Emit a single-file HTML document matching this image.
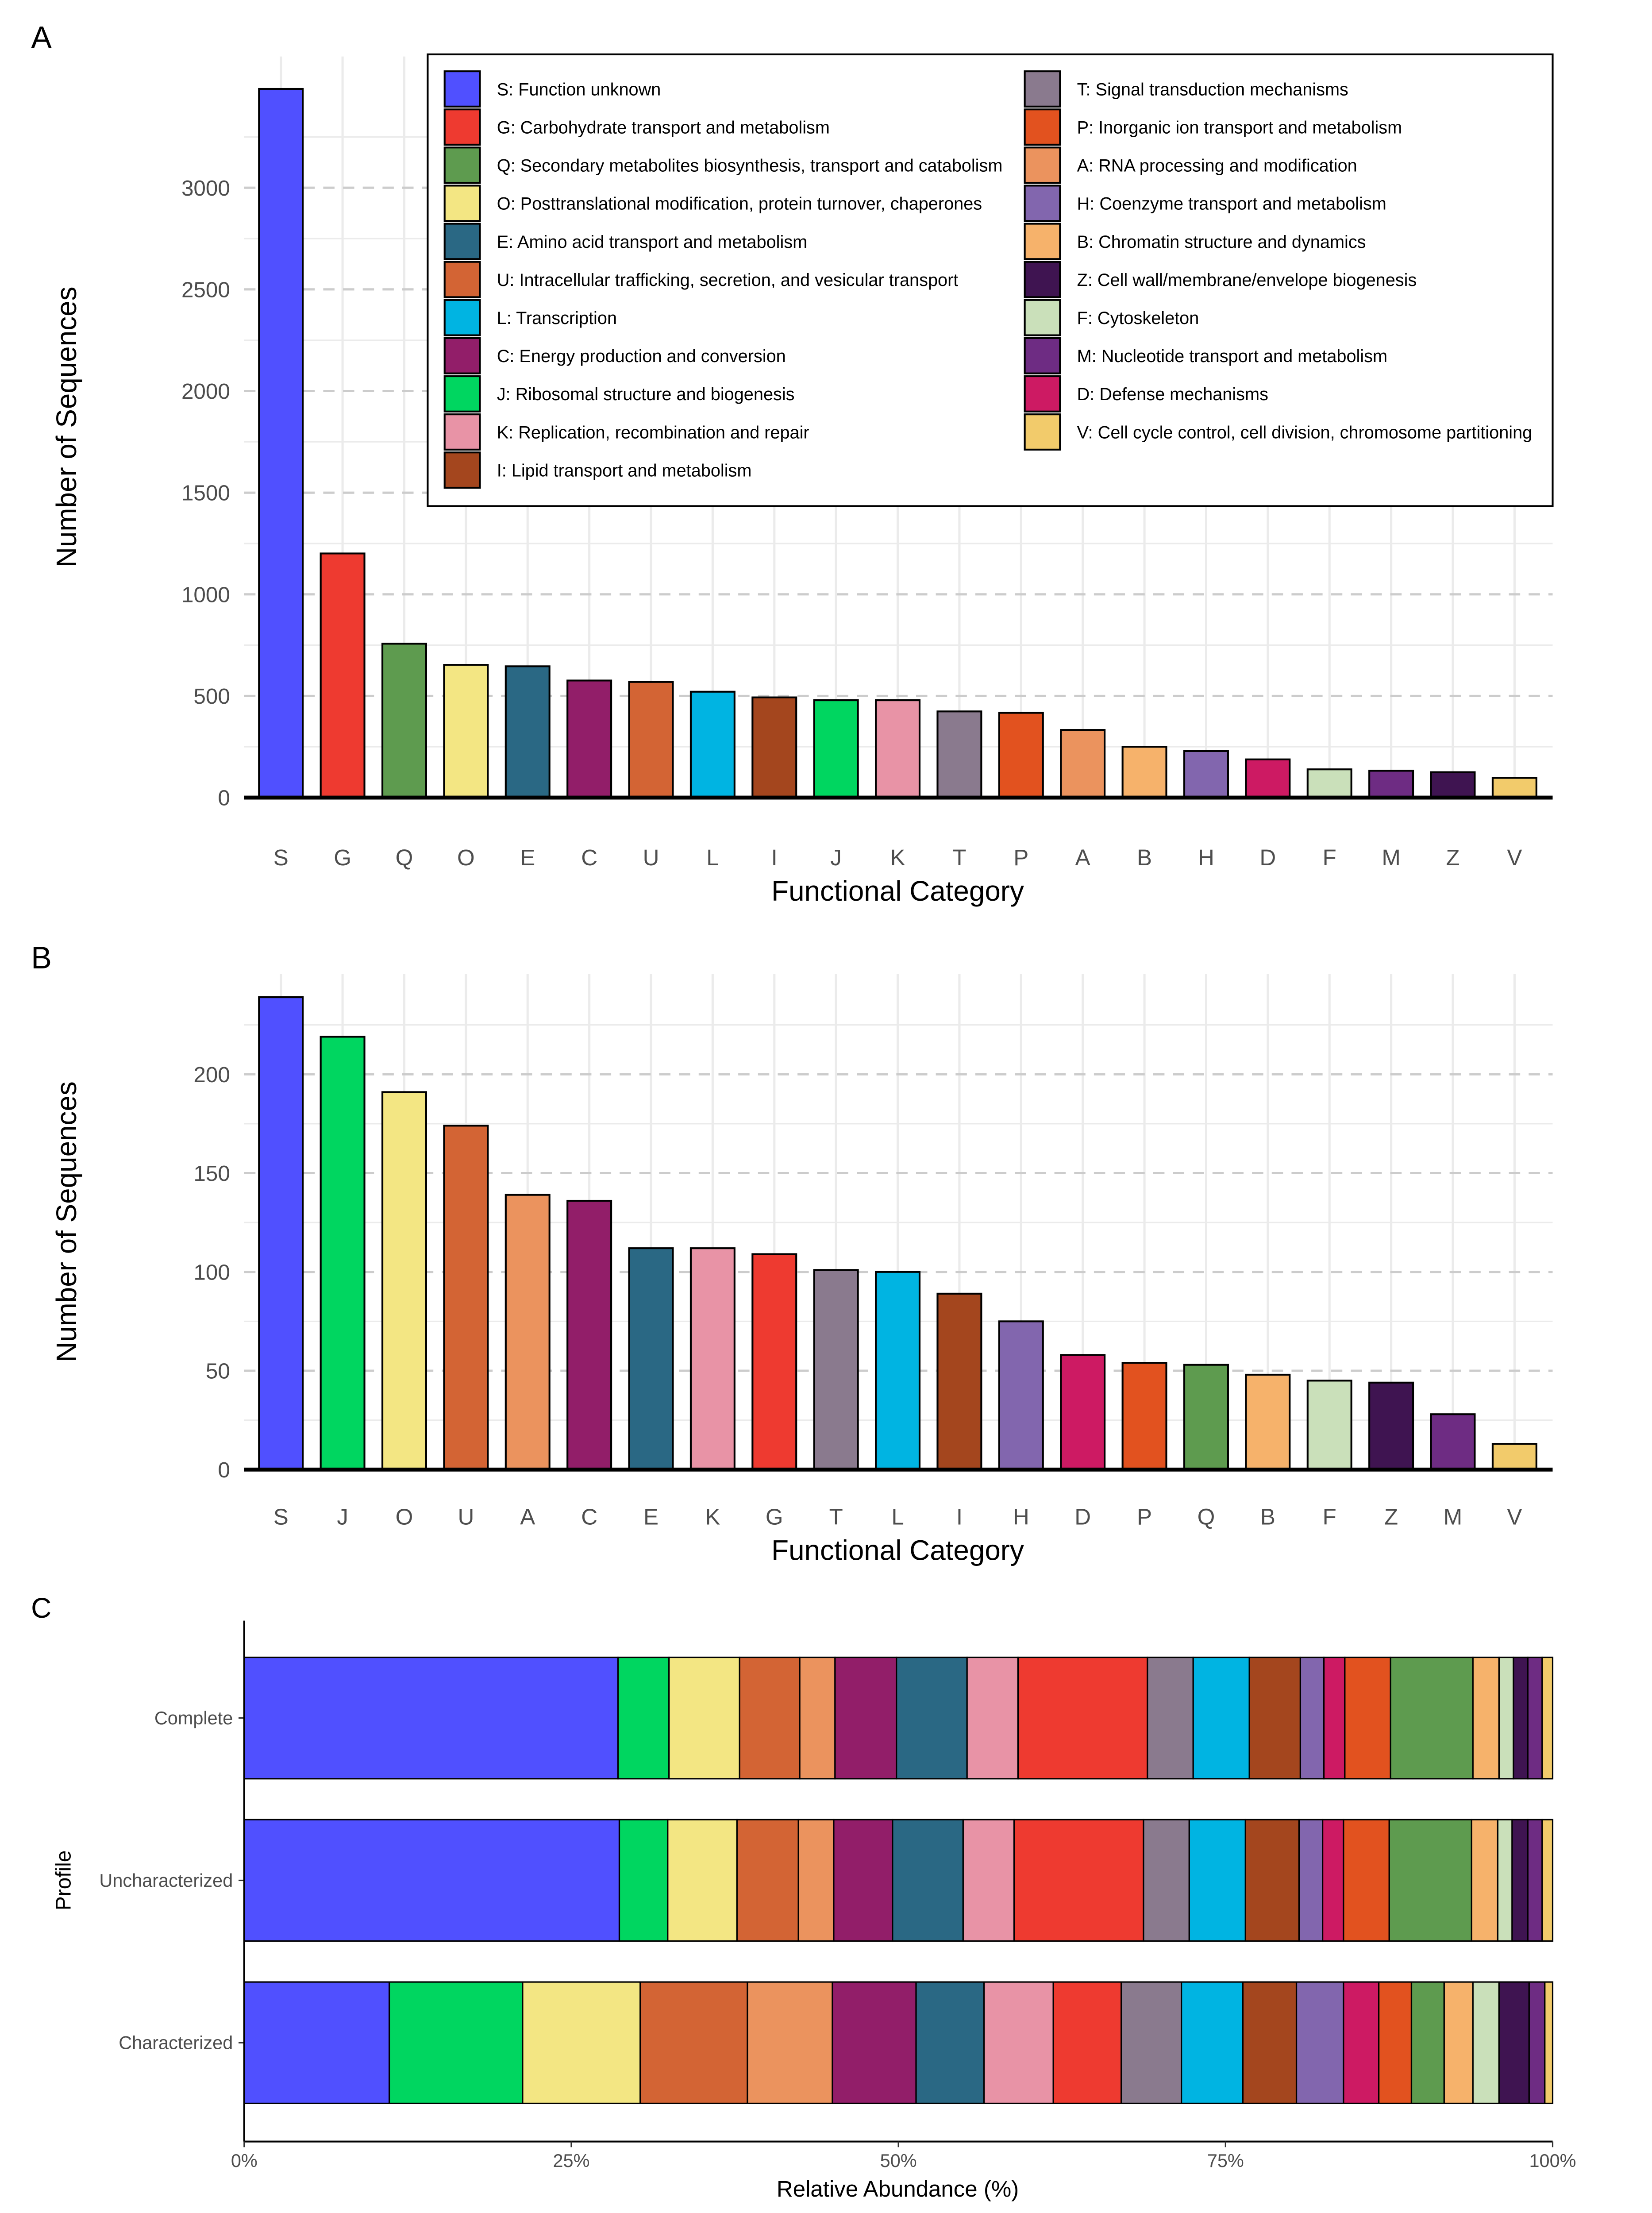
<!DOCTYPE html>
<html><head><meta charset="utf-8">
<style>
html,body{margin:0;padding:0;background:#fff;overflow:hidden;width:3733px;height:5183px;}
svg{display:block;position:absolute;left:0;top:0;font-family:"Liberation Sans",sans-serif;}
</style></head>
<body>
<svg id="chart" width="3733" height="5183" viewBox="0 0 1170 1625" preserveAspectRatio="xMinYMin meet" xmlns="http://www.w3.org/2000/svg">
<rect width="1170" height="1625" fill="#fff"/>
</svg>
<script>
// ---------- data ----------
const catsA = ["S","G","Q","O","E","C","U","L","I","J","K","T","P","A","B","H","D","F","M","Z","V"];
const valsA = [3486,1201,757,653,646,576,569,521,493,479,479,424,417,333,250,229,188,139,132,125,97];
const ticksA = [0,500,1000,1500,2000,2500,3000];
const catsB = ["S","J","O","U","A","C","E","K","G","T","L","I","H","D","P","Q","B","F","Z","M","V"];
const valsB = [239,219,191,174,139,136,112,112,109,101,100,89,75,58,54,53,48,45,44,28,13];
const ticksB = [0,50,100,150,200];
const profiles = ["Complete","Uncharacterized","Characterized"];
const stackOrder = ["S","J","O","U","A","C","E","K","G","T","L","I","H","D","P","Q","B","F","Z","M","V"];
const pctComplete = [28.6,3.9,5.4,4.6,2.7,4.7,5.4,3.9,9.9,3.5,4.3,3.9,1.8,1.6,3.5,6.3,2.0,1.1,1.1,1.1,0.8];
const pctUnchar = [28.7,3.7,5.3,4.7,2.7,4.5,5.4,3.9,9.9,3.5,4.3,4.1,1.8,1.6,3.5,6.3,2.0,1.1,1.2,1.1,0.8];
const pctChar = [11.1,10.2,9.0,8.2,6.5,6.4,5.2,5.3,5.2,4.6,4.7,4.1,3.6,2.7,2.5,2.5,2.2,2.0,2.3,1.2,0.6];
const xTicksC = [0,25,50,75,100];
const legendLeft = [["S","S: Function unknown"],["G","G: Carbohydrate transport and metabolism"],["Q","Q: Secondary metabolites biosynthesis, transport and catabolism"],["O","O: Posttranslational modification, protein turnover, chaperones"],["E","E: Amino acid transport and metabolism"],["U","U: Intracellular trafficking, secretion, and vesicular transport"],["L","L: Transcription"],["C","C: Energy production and conversion"],["J","J: Ribosomal structure and biogenesis"],["K","K: Replication, recombination and repair"],["I","I: Lipid transport and metabolism"]];
const legendRight = [["T","T: Signal transduction mechanisms"],["P","P: Inorganic ion transport and metabolism"],["A","A: RNA processing and modification"],["H","H: Coenzyme transport and metabolism"],["B","B: Chromatin structure and dynamics"],["Z","Z: Cell wall/membrane/envelope biogenesis"],["F","F: Cytoskeleton"],["M","M: Nucleotide transport and metabolism"],["D","D: Defense mechanisms"],["V","V: Cell cycle control, cell division, chromosome partitioning"]];
const colors = {S:"#5050FF",G:"#EE3A30",Q:"#5E9B4F",O:"#F3E683",E:"#2A6884",U:"#D36434",L:"#00B4E2",C:"#921E69",J:"#00D660",K:"#E893A6",I:"#A4461E",T:"#8A7A8E",P:"#E2521F",A:"#EB935E",H:"#8266AE",B:"#F6B26B",Z:"#3F1451",F:"#CAE0BA",M:"#6E2C83",D:"#CD1A63",V:"#F2CB6B"};

const svg = document.getElementById('chart');
const NS = "http://www.w3.org/2000/svg";
function mk(tag, attrs, parent){const e=document.createElementNS(NS,tag);for(const k in attrs)e.setAttribute(k,attrs[k]);(parent||svg).appendChild(e);return e;}
function txt(s, attrs, parent){const e=mk('text',attrs,parent);e.textContent=s;return e;}

function barPanel(cats, vals, ticks, minorStep, y0, yTop, yPerUnit, panelName, labelOff, titleY){
  const g = mk('g',{});
  
  
  const xL=173, xR=1100, x0=199, step=43.7;
  const yS = v => y0 - v*yPerUnit;
  const xS = i => x0 + i*step;
  for(let v=minorStep; yS(v)>=yTop; v+=minorStep*2){
    const l=mk('line',{x1:xL,x2:xR,y1:yS(v),y2:yS(v),stroke:"#ebebeb","stroke-width":1},g);
    
    
  }
  cats.forEach((c,i)=>{
    const l=mk('line',{x1:xS(i),x2:xS(i),y1:yTop,y2:y0,stroke:"#ebebeb","stroke-width":1.6},g);
    
    
  });
  ticks.forEach(t=>{
    if(t>0){
      const l=mk('line',{x1:xL,x2:xR,y1:yS(t),y2:yS(t),stroke:"#cccccc","stroke-width":1.6,"stroke-dasharray":"8,6"},g);
      
      
    }
    const tl=txt(String(t),{x:163,y:yS(t)+5.5,"text-anchor":"end","font-size":15.5,fill:"#4d4d4d"},g);
    
    
  });
  cats.forEach((c,i)=>{
    const b=mk('rect',{x:xS(i)-15.5,y:yS(vals[i]),width:31,height:vals[i]*yPerUnit,fill:colors[c],stroke:"#000","stroke-width":1.3},g);
    
    
    const xl=txt(c,{x:xS(i),y:y0+labelOff,"text-anchor":"middle","font-size":16,fill:"#4d4d4d"},g);
    
    
  });
  const ax=mk('line',{x1:xL,x2:xR,y1:y0,y2:y0,stroke:"#000","stroke-width":2.8},g);
  
  
  const yt=txt("Number of Sequences",{x:0,y:0,transform:`translate(54,${(yTop+y0)/2}) rotate(-90)`,"text-anchor":"middle","font-size":20,fill:"#000"},g);
  
  
  const xt=txt("Functional Category",{x:636,y:titleY,"text-anchor":"middle","font-size":20,fill:"#000"},g);
  
  
  return g;
}

const pA = barPanel(catsA, valsA, ticksA, 250, 565, 40, 0.144, 'panel-a-chart', 48, 638);
const lA=txt("A",{x:22,y:34,"font-size":22},svg);



const lg = mk('g',{});


const lbox=mk('rect',{x:303,y:38.5,width:797,height:320,fill:"#fff",stroke:"#000","stroke-width":1.3},lg);


function legendCol(list, sx, tx){
  list.forEach((it,i)=>{
    const y=63+27*i;
    const s=mk('rect',{x:sx,y:y-12.5,width:25,height:25,fill:colors[it[0]],stroke:"#000","stroke-width":1.3},lg);
    
    
    const t=txt(it[1],{x:tx,y:y+4.5,"font-size":12.45,fill:"#000"},lg);
    
    
  });
}
legendCol(legendLeft,315,352);
legendCol(legendRight,726,763);

const pB = barPanel(catsB, valsB, ticksB, 25, 1041, 690, 1.4, 'panel-b-chart', 39, 1105);
const lB=txt("B",{x:22,y:686,"font-size":22},svg);



const gc = mk('g',{});


const lC=txt("C",{x:22,y:1146,"font-size":20},svg);


const cxL=173, cxR=1100;
const xC = p => cxL + p/100*(cxR-cxL);
const rowsC=[pctComplete,pctUnchar,pctChar];
const rowY=[1174,1289,1404], rowH=86;
rowsC.forEach((arr,r)=>{
  const tot=arr.reduce((a,b)=>a+b,0);
  let acc=0;
  arr.forEach((v,i)=>{
    const p0=acc/tot*100; acc+=v; const p1=acc/tot*100;
    const s=mk('rect',{x:xC(p0),y:rowY[r],width:xC(p1)-xC(p0),height:rowH,fill:colors[stackOrder[i]],stroke:"#000","stroke-width":1},gc);
    
    
  });
  const cy=rowY[r]+rowH/2;
  const tk=mk('line',{x1:169,x2:173,y1:cy,y2:cy,stroke:"#333","stroke-width":1},gc);
  
  
  const lb=txt(profiles[r],{x:165,y:cy+4.5,"text-anchor":"end","font-size":13,fill:"#4d4d4d"},gc);
  
  
});
const yaxC=mk('line',{x1:173,x2:173,y1:1148,y2:1517,stroke:"#000","stroke-width":1.3},gc);


const xaxC=mk('line',{x1:173,x2:1100,y1:1517,y2:1517,stroke:"#000","stroke-width":1.3},gc);


xTicksC.forEach(t=>{
  const tk=mk('line',{x1:xC(t),x2:xC(t),y1:1517,y2:1521,stroke:"#333","stroke-width":1},gc);
  
  
  const tl=txt(t+"%",{x:xC(t),y:1535,"text-anchor":"middle","font-size":13,fill:"#4d4d4d"},gc);
  
  
});
const xtC=txt("Relative Abundance (%)",{x:636,y:1556,"text-anchor":"middle","font-size":16,fill:"#000"},gc);


const ytC=txt("Profile",{x:0,y:0,transform:"translate(50,1332) rotate(-90)","text-anchor":"middle","font-size":15,fill:"#000"},gc);


</script>
</body></html>
